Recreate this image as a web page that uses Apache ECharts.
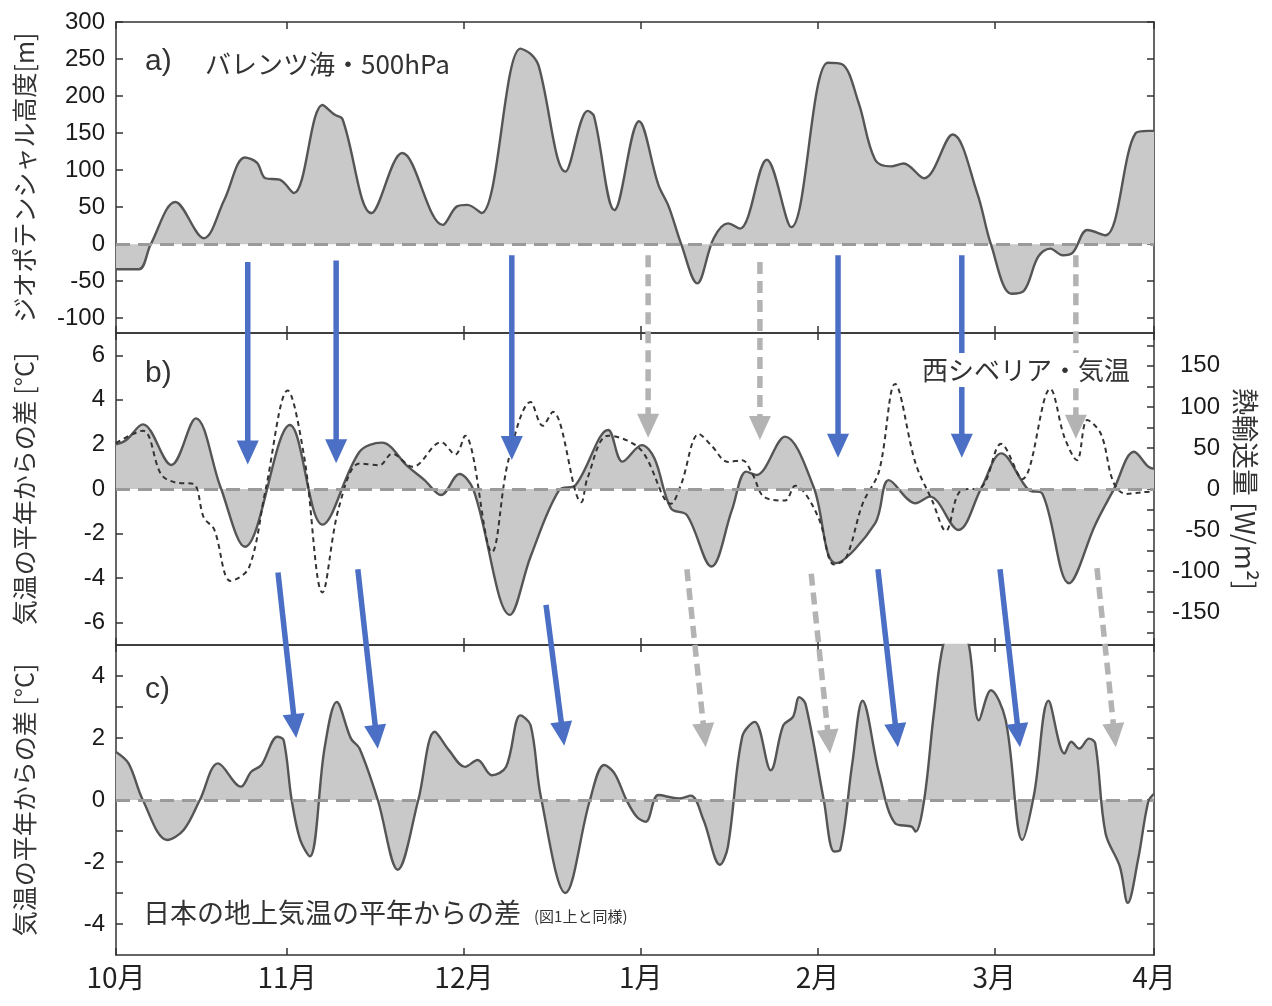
<!DOCTYPE html>
<html><head><meta charset="utf-8">
<script src="https://cdn.jsdelivr.net/npm/echarts/dist/echarts.min.js"></script>
<style>html,body{margin:0;padding:0;background:#fff}#c{width:1272px;height:1006px}</style>
</head><body><div id="c"></div>
<script>
// ---- x axis (days since Oct 1) ----
const monthTicks = [0, 30, 61, 92, 123, 154, 182];
const monthLabels = ['10月', '11月', '12月', '1月', '2月', '3月', '4月'];

// ---- a) Barents Sea 500hPa geopotential height anomaly [m] ----
const aDays = [0,4,6.1,10.4,15.4,19,22.6,24.7,26.2,28.7,31.2,36.2,38.3,39.7,44.8,50.2,57.3,59.8,61.6,64.1,70.9,72.7,74.1,78.8,82.7,83.8,87.4,91.7,95.1,96.9,99.1,101.9,104.8,107.3,109.4,114.1,118.4,124.8,127.3,130.2,133.1,135.9,138.1,141.7,146.7,151,153.4,157,159.2,161.7,163.8,166,167.8,170.3,173.5,178.8,181,182];
const aVals = [-34,-34,0,57,8,60,117,110,89,87,69,188,175,169,42,123,26,51,53,42,264,257,241,98,180,173,46,166,80,51,0,-53,8,28,21,114,23,245,243,191,114,105,109,89,148,69,0,-67,-63,-17,-6,-15,-11,19,12,150,153,153];

// ---- b) West Siberia air temperature anomaly [°C] ----
const bDays = [0,1.8,4.7,9.7,14,18.3,22.6,30.5,36.2,42.7,46.6,51.2,54.1,57,60.2,62.7,69.1,72.7,77.7,80.6,86.3,88.8,92.2,94.4,97.3,100.1,104.4,108,110.5,112.3,117.3,122.3,126.2,133.1,135.5,140.2,142.7,147.7,151.7,155.2,160,162.4,167.1,171.7,174.9,178.5,181,182];
const bTemp = [2.0,2.2,2.9,1.08,3.17,0.1,-2.59,2.87,-1.6,1.67,2.08,1.0,0.4,-0.27,0.67,-0.05,-5.65,-3.03,-0.05,0.18,2.65,1.23,1.97,1.38,-0.87,-1.17,-3.48,-0.94,0.78,0.63,2.35,0.1,-3.33,-1.54,0.4,-0.64,-0.34,-1.84,0.03,1.6,-0.04,-0.2,-4.23,-1.6,-0.04,1.67,1.0,0.9];

// ---- b) heat transport [W/m2] (dashed, right axis) ----
const fDays = [0,4.7,7.9,10.4,13.6,15.4,17.2,20.1,23.3,26.2,30.1,33,36.2,39.1,42.7,46.2,48.4,52,57,59.5,61.2,65.9,68.8,72.7,74.8,76.6,81.6,82.7,86.3,92,97.3,99.1,102.2,104.4,107.3,109.8,111.6,113.7,117.3,119.1,120.9,123.4,125.9,128,130.9,133.8,136.6,140.2,143.1,145.5,148.1,151.7,155.2,158.9,163.8,166.3,168.5,170.3,172.7,174.9,177.1,179.9,182];
const fVals = [56,71,18,8,6,-35,-49,-112,-96,-2,120,39,-126,-22,31,29,43,27,57,42,65,-77,35,106,77,94,-16,14,65,48,-18,6,67,53,33,35,18,-10,-14,4,-6,-39,-92,-84,-18,22,128,31,-14,-51,-2,2,55,12,122,63,35,84,67,8,-6,-4,-3];

// ---- c) Japan surface air temperature anomaly [°C] ----
const cDays = [0,2.2,4.7,9.0,11.9,14.7,17.9,21.9,23.7,25.5,28.3,29.4,30.8,32.3,34,36.6,38.7,41.2,42.7,45.9,49.4,53,55.9,58.4,61.2,63.4,65.9,68.4,70.9,72.7,74.5,78.8,83.1,85.6,87.4,89.5,91.3,92.9,95.1,98.7,100.8,103,105.9,107.3,109.8,112,114.8,117,118.7,119.8,120.9,124.1,125.9,127,129.1,130.9,133.8,136.6,139.5,140.2,141.7,143.4,145.2,147.5,149.5,151.3,153.4,156,158.9,161,163.5,166.3,167.5,168.9,170.6,171.7,173.5,176,177.4,179.2,181,182];
const cVals = [1.55,1.18,0,-1.29,-0.96,0,1.18,0.43,0.91,1.13,2.04,1.93,0,-1.29,-1.82,1.71,3.16,1.98,1.66,0,-2.25,0,2.2,1.6,1.07,1.29,0.8,1.07,2.73,2.41,0.1,-3.0,0,1.13,0.86,0,-0.54,-0.7,0.16,0.05,0.14,-0.64,-2.09,-1.5,2.04,2.52,0.96,2.41,2.68,3.32,3.1,0,-1.66,-1.6,1.18,3.2,0.86,-0.75,-0.86,-1.02,0,2.79,5.14,5.8,5.04,2.57,3.54,2.57,-1.29,0.21,3.2,1.5,1.88,1.66,1.98,1.82,-1.07,-2.14,-3.32,-1.93,-0.05,0.2];

// ---- y tick values ----
const aTicks = [-100,-50,0,50,100,150,200,250,300];
const bTicks = [-6,-4,-2,0,2,4,6];
const fLabels = [-150,-100,-50,0,50,100,150];
const fTicks = [-175,-150,-125,-100,-75,-50,-25,0,25,50,75,100,125,150,175];
const cLabels = [-4,-2,0,2,4];
const cTicks = [-4,-3,-2,-1,0,1,2,3,4];

// ---- arrows: [x1, y1, panel1, x2, y2, panel2, kind] ----
const arrows = [
  [23.1,-24,0, 23.1,1.1,1,'blue'],
  [38.6,-22,0, 38.6,1.15,1,'blue'],
  [69.4,-15,0, 69.4,1.3,1,'blue'],
  [126.6,-15,0, 126.6,1.4,1,'blue'],
  [148.3,-15,0, 148.3,1.4,1,'blue'],
  [93.3,-15,0, 93.3,2.3,1,'gray'],
  [112.9,-24,0, 112.9,2.2,1,'gray'],
  [168.3,-15,0, 168.3,2.25,1,'gray'],
  [28.4,-3.75,1, 31.6,2.0,2,'blue'],
  [42.4,-3.6,1, 45.9,1.65,2,'blue'],
  [75.4,-5.2,1, 78.6,1.75,2,'blue'],
  [133.6,-3.6,1, 137.1,1.7,2,'blue'],
  [155.0,-3.6,1, 158.5,1.7,2,'blue'],
  [100.1,-3.6,1, 103.4,1.7,2,'gray'],
  [121.9,-3.8,1, 125.2,1.5,2,'gray'],
  [172.0,-3.55,1, 175.3,1.7,2,'gray']
];

const zip = (xs, ys) => xs.map((x, i) => [x, ys[i]]);
const LAT = 'Liberation Sans';
const JP = 'Noto Sans CJK JP';
const AX = '#333';

function xa(grid, pos, showLabel) {
  return {
    type: 'value', gridIndex: grid, position: pos, min: 0, max: 182,
    axisLine: { show: true, onZero: false, lineStyle: { color: AX, width: 1.5 } },
    axisTick: { show: true, inside: true, length: 7, customValues: monthTicks, lineStyle: { color: AX, width: 1.5 } },
    axisLabel: { show: showLabel, customValues: monthTicks, formatter: v => monthLabels[monthTicks.indexOf(v)] || '',
      fontSize: 28, fontFamily: JP, color: '#222', margin: 8 },
    splitLine: { show: false }
  };
}
function ya(grid, pos, min, max, ticks, labels, extra) {
  const o = {
    type: 'value', gridIndex: grid, position: pos, min: min, max: max,
    axisLine: { show: true, onZero: false, lineStyle: { color: AX, width: 1.5 } },
    axisTick: { show: true, inside: true, length: 7, customValues: ticks, lineStyle: { color: AX, width: 1.5 } },
    axisLabel: labels ? { show: true, customValues: labels, fontSize: 24, fontFamily: LAT, color: '#1a1a1a', margin: 11 } : { show: false },
    splitLine: { show: false },
    nameTextStyle: { fontSize: 25, fontFamily: JP, color: '#333' }
  };
  return Object.assign(o, extra || {});
}

const zeroLine = {
  silent: true, symbol: 'none', label: { show: false },
  lineStyle: { color: '#9a9a9a', type: [14, 8], width: 3 },
  data: [{ yAxis: 0 }]
};
function areaSeries(xi, yi, data) {
  return {
    type: 'line', xAxisIndex: xi, yAxisIndex: yi, data: data, smooth: 0.35, symbol: 'none',
    lineStyle: { color: '#555', width: 2.4 }, areaStyle: { color: '#c9c9c9', opacity: 1, origin: 0 },
    markLine: zeroLine, z: 2
  };
}

const option = {
  animation: false,
  backgroundColor: '#fff',
  grid: [
    { left: 116, right: 118, top: 22, height: 311 },
    { left: 116, right: 118, top: 333, height: 312 },
    { left: 116, right: 118, top: 645, height: 310 }
  ],
  xAxis: [xa(0, 'bottom', false), xa(0, 'top', false), xa(1, 'bottom', false), xa(1, 'top', false), xa(2, 'bottom', true), xa(2, 'top', false)],
  yAxis: [
    ya(0, 'left', -120, 300, aTicks, aTicks, { name: 'ジオポテンシャル高度[m]', nameLocation: 'middle', nameGap: 79, nameRotate: 90 }),
    ya(0, 'right', -120, 300, aTicks, null),
    ya(1, 'left', -7, 7, bTicks, bTicks, { name: '気温の平年からの差 [°C]', nameLocation: 'middle', nameGap: 79, nameRotate: 90 }),
    ya(1, 'right', -190, 190, fTicks, null, { name: '熱輸送量 [W/m²]', nameLocation: 'middle', nameGap: 78, nameRotate: -90 }),
    ya(2, 'left', -5, 5, cTicks, cLabels, { name: '気温の平年からの差 [°C]', nameLocation: 'middle', nameGap: 79, nameRotate: 90 }),
    ya(2, 'right', -5, 5, cTicks, null)
  ],
  series: [
    areaSeries(0, 0, zip(aDays, aVals)),
    areaSeries(2, 2, zip(bDays, bTemp)),
    { type: 'line', xAxisIndex: 2, yAxisIndex: 3, data: zip(fDays, fVals), smooth: 0.35, symbol: 'none',
      lineStyle: { color: '#333', width: 2, type: [5, 4] }, z: 3 },
    areaSeries(4, 4, zip(cDays, cVals))
  ]
};
// right axis of panel b shows labels every 50 (right aligned)
option.yAxis[3].axisLabel = { show: true, customValues: fLabels, fontSize: 24, fontFamily: LAT, color: '#1a1a1a', margin: 66, align: 'right' };
option.yAxis[3].nameTextStyle = { fontSize: 27, fontFamily: JP, color: '#333' };

const chart = echarts.init(document.getElementById('c'), null, { renderer: 'canvas' });
chart.setOption(option);

const toPx = (x, y, g) => chart.convertToPixel({ xAxisIndex: 2 * g, yAxisIndex: 2 * g }, [x, y]);
function arrowEls(a) {
  const [x1, y1, g1, x2, y2, g2, kind] = a;
  const p1 = toPx(x1, y1, g1), p2 = toPx(x2, y2, g2);
  const dx = p2[0] - p1[0], dy = p2[1] - p1[1];
  const L = Math.hypot(dx, dy), ux = dx / L, uy = dy / L;
  const hl = 24, hw = 11;
  const bx = p2[0] - ux * hl, by = p2[1] - uy * hl;
  const color = kind === 'blue' ? '#4a6fc4' : '#b3b3b3';
  return [
    { type: 'line', z: 50, shape: { x1: p1[0], y1: p1[1], x2: bx + ux * 2, y2: by + uy * 2 },
      style: { stroke: color, lineWidth: 5.5, lineDash: kind === 'blue' ? null : [12, 7] } },
    { type: 'polygon', z: 50, shape: { points: [[p2[0], p2[1]], [bx - uy * hw, by + ux * hw], [bx + uy * hw, by - ux * hw]] },
      style: { fill: color } }
  ];
}
const els = [];
arrows.forEach(a => els.push(...arrowEls(a)));
const txt = (x, y, text, size, font, align, extra) => Object.assign({
  type: 'text', x: x, y: y, z: 60,
  style: { text: text, fontSize: size, fontFamily: font, fill: '#333', align: align || 'left', verticalAlign: 'middle' }
}, extra || {});
els.push(txt(145, 62, 'a)', 30, LAT));
els.push(txt(205, 64, 'バレンツ海・500hPa', 26, JP));
els.push(txt(145, 374, 'b)', 30, LAT));
const ws = txt(1132, 370, '西シベリア・気温', 26, JP, 'right');
ws.style.backgroundColor = '#fff';
ws.style.padding = [4, 2, 4, 6];
els.push(ws);
els.push(txt(145, 690, 'c)', 30, LAT));
els.push(txt(143, 913, '日本の地上気温の平年からの差', 27, JP));
els.push(txt(534, 916, '(図1上と同様)', 15, JP));
chart.setOption({ graphic: { elements: els } });
</script>
</body></html>
